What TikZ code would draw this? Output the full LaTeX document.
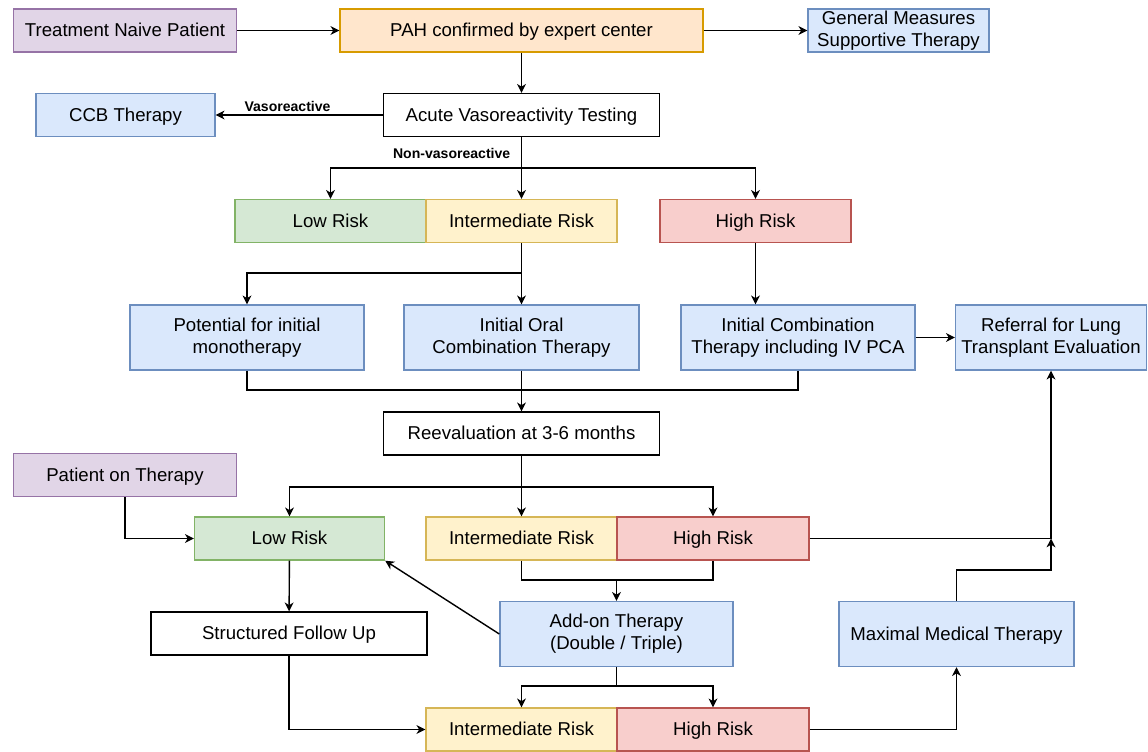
\documentclass[tikz,border=0pt]{standalone}
\usepackage{fontspec}
\setmainfont{Liberation Sans}
\usepackage{tikz}
\usetikzlibrary{arrows.meta,positioning}
\definecolor{purplefill}{HTML}{E1D5E7}\definecolor{purpleline}{HTML}{9673A6}
\definecolor{orangefill}{HTML}{FFE6CC}\definecolor{orangeline}{HTML}{D79B00}
\definecolor{bluefill}{HTML}{DAE8FC}\definecolor{blueline}{HTML}{6C8EBF}
\definecolor{greenfill}{HTML}{D5E8D4}\definecolor{greenline}{HTML}{82B366}
\definecolor{yellowfill}{HTML}{FFF2CC}\definecolor{yellowline}{HTML}{D6B656}
\definecolor{redfill}{HTML}{F8CECC}\definecolor{redline}{HTML}{B85450}

\begin{document}
\begin{tikzpicture}[x=0.02cm,y=-0.02cm,
  box/.style={draw,line width=0.8pt,inner sep=0pt,align=center,minimum height=0.86cm,
    text height=0.76em,text depth=0.04em,font=\fontsize{10.6}{12.5}\selectfont},
  tall/.style={minimum height=1.3cm,text height=,text depth=},
  plain/.style={box,draw=black,fill=white},
  purplebox/.style={box,draw=purpleline,fill=purplefill},
  orangebox/.style={box,draw=orangeline,fill=orangefill},
  bluebox/.style={box,draw=blueline,fill=bluefill},
  greenbox/.style={box,draw=greenline,fill=greenfill},
  yellowbox/.style={box,draw=yellowline,fill=yellowfill},
  redbox/.style={box,draw=redline,fill=redfill},
  line/.style={line width=0.8pt},
  arr/.style={line,-{Stealth[length=5pt,width=5pt,inset=1.5pt]}},
  small/.style={font=\fontsize{8}{9}\selectfont\bfseries}]
\useasboundingbox (0,0) rectangle (1148,751);

% top row
\node[purplebox,minimum width=4.46cm] (naive) at (125,30.5) {Treatment Naive Patient};
\node[orangebox,minimum width=7.26cm] (pah) at (521.5,30.5) {PAH confirmed by expert center};
\node[bluebox,tall,minimum width=3.62cm,minimum height=0.86cm] (general) at (898.5,30.5) {General Measures\\Supportive Therapy};
\node[bluebox,minimum width=3.58cm] (ccb) at (125.5,115) {CCB Therapy};
\node[plain,minimum width=5.52cm] (avt) at (521.5,115) {Acute Vasoreactivity Testing};

% first risk assessment
\node[greenbox,minimum width=3.82cm] (low1) at (330.5,221) {Low Risk};
\node[yellowbox,minimum width=3.82cm] (int1) at (521.5,221) {Intermediate Risk};
\node[redbox,minimum width=3.82cm] (high1) at (755.5,221) {High Risk};

% initial therapy
\node[bluebox,tall,minimum width=4.68cm] (mono) at (247,337.5) {Potential for initial\\monotherapy};
\node[bluebox,tall,minimum width=4.7cm] (oral) at (521.5,337.5) {Initial Oral\\Combination Therapy};
\node[bluebox,tall,minimum width=4.68cm] (ivpca) at (798,337.5) {Initial Combination\\Therapy including IV PCA};
\node[bluebox,tall,minimum width=3.82cm] (lung) at (1051,337.5) {Referral for Lung\\Transplant Evaluation};

\node[plain,minimum width=5.52cm] (reeval) at (521.5,433.5) {Reevaluation at 3-6 months};
\node[purplebox,minimum width=4.46cm] (ontherapy) at (125,475) {Patient on Therapy};

% second risk assessment
\node[greenbox,minimum width=3.8cm] (low2) at (289.5,538.5) {Low Risk};
\node[yellowbox,minimum width=3.82cm] (int2) at (521.5,538.5) {Intermediate Risk};
\node[redbox,minimum width=3.84cm] (high2) at (713,538.5) {High Risk};

\node[plain,minimum width=5.52cm] (follow) at (289,633.5) {Structured Follow Up};
\node[bluebox,tall,minimum width=4.66cm] (addon) at (616.5,634) {Add-on Therapy\\(Double / Triple)};
\node[bluebox,minimum width=4.7cm,minimum height=1.3cm] (mmt) at (956.5,634) {Maximal Medical Therapy};

\node[yellowbox,minimum width=3.82cm] (int3) at (521.5,729.5) {Intermediate Risk};
\node[redbox,minimum width=3.84cm] (high3) at (713,729.5) {High Risk};

% junctions
\coordinate (s1) at (521.5,168);
\coordinate (s2) at (521.5,273);
\coordinate (s3) at (521.5,390);
\coordinate (s4) at (521.5,487);
\coordinate (s5) at (616.5,580);
\coordinate (s6) at (616.5,686);
\coordinate (m1) at (1051,570);

% connectors
\draw[arr] (naive) -- (pah);
\draw[arr] (pah) -- (general);
\draw[arr] (pah) -- (avt);
\draw[arr] (avt) -- node[small,above,pos=0.57,inner sep=1.5pt] {Vasoreactive} (ccb);
\draw[arr] (avt) -- node[small,left,pos=0.27,inner sep=6pt] {Non-vasoreactive} (int1);
\draw[arr] (s1) -| (low1);
\draw[arr] (s1) -| (high1);

\draw[arr] (int1) -- (oral);
\draw[arr] (s2) -| (mono);
\draw[arr] (high1) -- (high1 |- ivpca.north);
\draw[arr] (ivpca) -- (lung);
\draw[line] (mono) |- (s3) -| (ivpca);
\draw[arr] (oral) -- (reeval);

\draw[arr] (reeval) -- (int2);
\draw[arr] (s4) -| (low2);
\draw[arr] (s4) -| (high2);
\draw[arr] (ontherapy) |- (low2);
\draw[arr] (low2) -- (follow);
\draw[line] (int2) |- (s5) -| (high2);
\draw[arr] (s5) -- (addon);
\draw[arr] (addon.west) -- (low2.south east);
\draw[arr] (high2) -| (lung);
\draw[arr] (mmt) |- (m1) -- (lung |- high2);

\draw[line] (addon) -- (s6);
\draw[arr] (s6) -| (int3);
\draw[arr] (s6) -| (high3);
\draw[arr] (follow) |- (int3);
\draw[arr] (high3) -| (mmt);
\end{tikzpicture}
\end{document}
